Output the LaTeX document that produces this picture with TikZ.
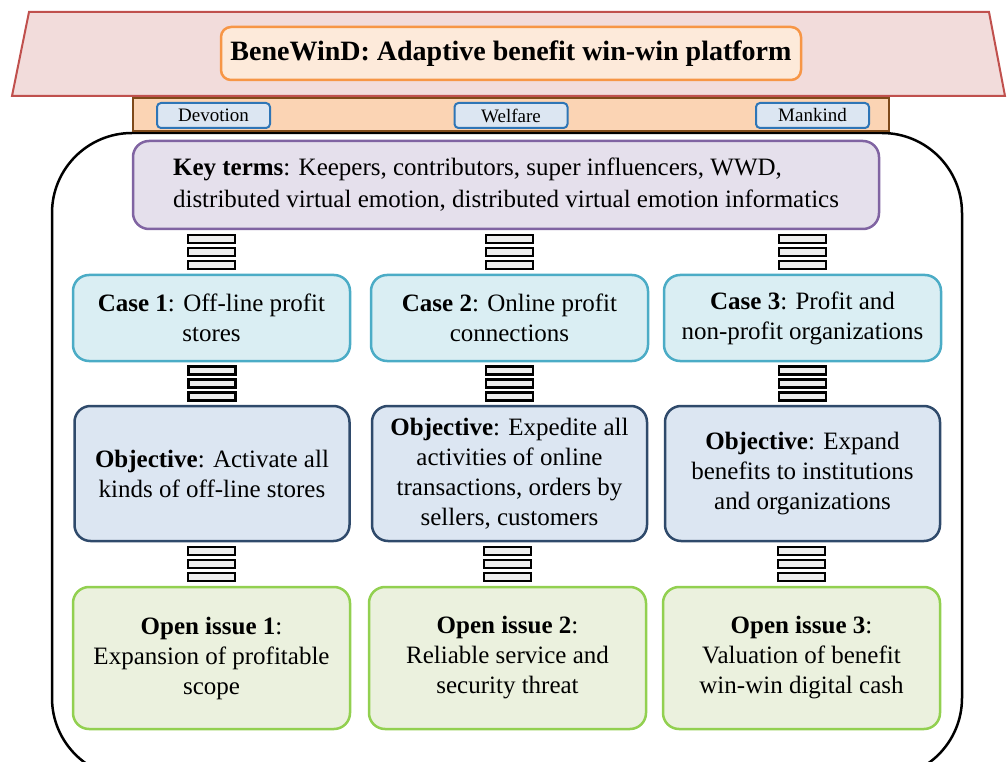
\documentclass[tikz,border=0pt]{standalone}
\usepackage{fontspec}
\setmainfont{Liberation Serif}
\usetikzlibrary{calc}
\definecolor{roofF}{HTML}{F2DCDB}
\definecolor{roofD}{HTML}{C0504D}
\definecolor{titleF}{HTML}{FDEADA}
\definecolor{titleD}{HTML}{F79646}
\definecolor{barF}{HTML}{FBD4B4}
\definecolor{barD}{HTML}{7F4A1A}
\definecolor{tagF}{HTML}{DCE6F2}
\definecolor{tagD}{HTML}{2E75B6}
\definecolor{keyF}{HTML}{E5E0EC}
\definecolor{keyD}{HTML}{8064A2}
\definecolor{caseF}{HTML}{DAEEF3}
\definecolor{caseD}{HTML}{4BACC6}
\definecolor{objF}{HTML}{DCE6F2}
\definecolor{objD}{HTML}{2F4A6B}
\definecolor{opnF}{HTML}{EBF1DE}
\definecolor{opnD}{HTML}{92D050}
\definecolor{stackF}{HTML}{EEEEEE}
\newcommand{\linkstack}[3]{%
  \coordinate (#3) at ($(#1.south -| #2.north)!0.5!(#2.north)$);
  \foreach \d in {-13,0,13}
    \draw[stackbar] ($(#3)+(-23.5,\d-4)$) rectangle ($(#3)+(23.5,\d+4)$);}
\begin{document}
\begin{tikzpicture}[x=1pt,y=-1pt,
  box/.style={draw, line width=2.5pt, rounded corners=16pt, align=center,
    inner sep=0pt, font=\fontsize{25}{30}\selectfont},
  casebox/.style={box, fill=caseF, draw=caseD, minimum width=277pt, minimum height=86pt},
  objbox/.style={box, fill=objF, draw=objD, minimum width=275pt, minimum height=135pt},
  opnbox/.style={box, fill=opnF, draw=opnD, minimum width=277pt, minimum height=142pt},
  tag/.style={draw=tagD, fill=tagF, line width=2pt, rounded corners=4pt,
    minimum width=113pt, minimum height=25pt, inner sep=0pt,
    font=\fontsize{19}{20}\selectfont},
  stackbar/.style={draw=black, fill=stackF, line width=2.2pt}]
\useasboundingbox (0,0) rectangle (1007,762);
% roof
\draw[fill=roofF, draw=roofD, line width=2pt] (29,12) -- (989,12) -- (1005,96) -- (12,96) -- cycle;
\node[draw=titleD, fill=titleF, line width=2.5pt, rounded corners=10pt,
  minimum width=580pt, minimum height=53pt, inner sep=0pt,
  font=\fontsize{28}{30}\selectfont\bfseries] (title) at (511,53.5)
  {BeneWinD: Adaptive benefit win-win platform};
% outer frame
\draw[line width=2.5pt, rounded corners=80pt] (52,133) rectangle (962,778);
% bar
\draw[fill=barF, draw=barD, line width=2pt] (133,98) rectangle (889,131);
\node[tag] (dev) at (213.5,115.5) {Devotion};
\node[tag] (wel) at (511,115.5) {Welfare};
\node[tag] (man) at (812.5,115.5) {Mankind};
% key terms
\node[box, fill=keyF, draw=keyD, minimum width=746pt, minimum height=88pt, align=left,
  font=\fontsize{25}{32}\selectfont] (key) at (506,185)
  {\textbf{Key terms}: Keepers, contributors, super influencers, WWD,\\
   distributed virtual emotion, distributed virtual emotion informatics};
% cases
\node[casebox] (c1) at (211.5,318) {\textbf{Case 1}: Off-line profit\\stores};
\node[casebox] (c2) at (509.5,318) {\textbf{Case 2}: Online profit\\connections};
\node[casebox] (c3) at (802.5,318) {\textbf{Case 3}: Profit and\\non-profit organizations};
% objectives
\node[objbox] (o1) at (212,473.5) {\textbf{Objective}: Activate all\\kinds of off-line stores};
\node[objbox] (o2) at (509.5,473.5) {\textbf{Objective}: Expedite all\\activities of online\\transactions, orders by\\sellers, customers};
\node[objbox] (o3) at (802.5,473.5) {\textbf{Objective}: Expand\\benefits to institutions\\and organizations};
% open issues
\node[opnbox] (p1) at (211.5,658) {\textbf{Open issue 1}:\\Expansion of profitable\\scope};
\node[opnbox] (p2) at (507.5,658) {\textbf{Open issue 2}:\\Reliable service and\\security threat};
\node[opnbox] (p3) at (801.5,658) {\textbf{Open issue 3}:\\Valuation of benefit\\win-win digital cash};
% connectors
\linkstack{key}{c1}{s11}
\linkstack{key}{c2}{s12}
\linkstack{key}{c3}{s13}
\linkstack{c1}{o1}{s21}
\linkstack{c2}{o2}{s22}
\linkstack{c3}{o3}{s23}
\linkstack{o1}{p1}{s31}
\linkstack{o2}{p2}{s32}
\linkstack{o3}{p3}{s33}
\end{tikzpicture}
\end{document}
